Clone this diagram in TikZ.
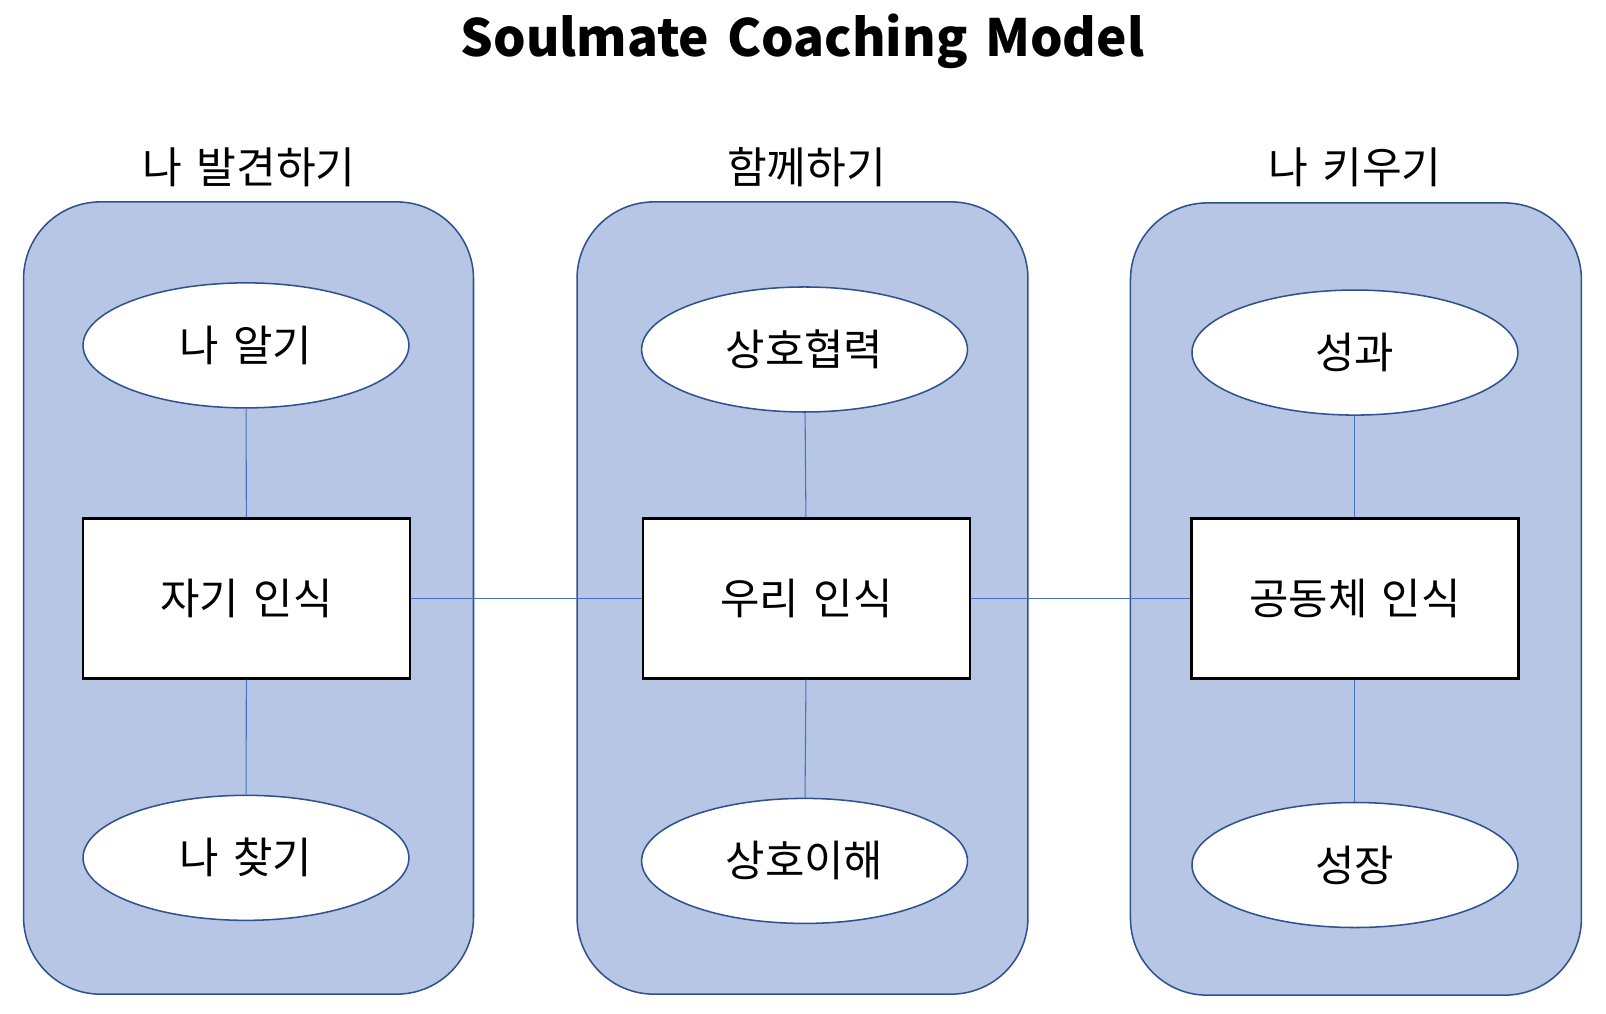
\documentclass[tikz,border=0pt]{standalone}
\usepackage{fontspec}
\setmainfont{Noto Sans CJK KR}[WordSpace=1.5]
\usetikzlibrary{shapes.geometric}
\definecolor{panelfill}{HTML}{B7C6E4}
\definecolor{paneldraw}{HTML}{2F528F}
\definecolor{linkblue}{HTML}{4472C4}

\begin{document}
\begin{tikzpicture}[x=0.02cm, y=-0.02cm,
		panel/.style={fill=panelfill, draw=paneldraw, line width=0.85pt, rounded corners=1.5cm},
		topic/.style={ellipse, fill=white, draw=paneldraw, line width=0.85pt, inner sep=0pt,
			minimum width=6.36cm, minimum height=2.44cm, font=\fontsize{23.8}{28}\selectfont},
		core/.style={rectangle, fill=white, draw=black, line width=1.4pt, inner sep=0pt,
			minimum width=6.38cm, minimum height=3.12cm, font=\fontsize{23.8}{28}\selectfont},
		head/.style={font=\fontsize{24}{28}\selectfont},
		link/.style={draw=linkblue, line width=0.6pt}]
		%%%%% START %%%%%
		
		\useasboundingbox (0, 0) rectangle (1567, 989);
		
		\node[font=\fontsize{28.5}{34}\selectfont\bfseries] (title) at (783, 40) {Soulmate Coaching Model};
		
		\draw[panel] (23, 197) rectangle (462, 970);
		\draw[panel] (563, 197) rectangle (1003, 970);
		\draw[panel] (1103, 198) rectangle (1543, 971);
		
		\node[head] (h1) at (243, 163) {나 발견하기};
		\node[head] (h2) at (787, 163) {함께하기};
		\node[head] (h3) at (1322, 163) {나 키우기};
		
		\node[topic] (know) at (240, 337) {나 알기};
		\node[core] (self) at (240.5, 584) {자기 인식};
		\node[topic] (find) at (240, 837) {나 찾기};
		
		\node[topic] (coop) at (785, 341) {상호협력};
		\node[core] (we) at (787, 584) {우리 인식};
		\node[topic] (understand) at (785, 840) {상호이해};
		
		\node[topic] (result) at (1322, 344) {성과};
		\node[core] (community) at (1322, 584) {공동체 인식};
		\node[topic] (growth) at (1322, 844) {성장};
		
		\draw[link] (know) -- (self) -- (find);
		\draw[link] (coop) -- (we) -- (understand);
		\draw[link] (result) -- (community) -- (growth);
		\draw[link] (self) -- (we) -- (community);
		
		%%%%% END %%%%%
\end{tikzpicture}
\end{document}
